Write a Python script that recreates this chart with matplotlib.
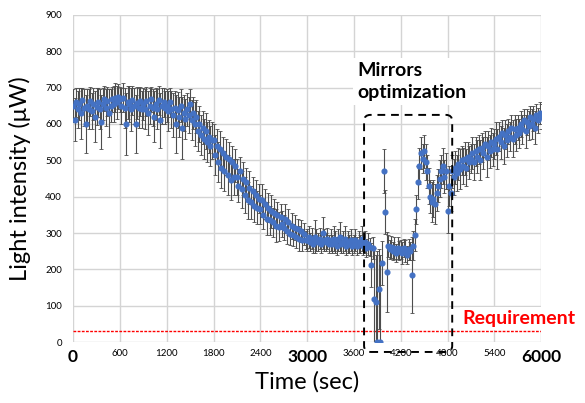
import numpy as np
import matplotlib
matplotlib.use("Agg")
import matplotlib.pyplot as plt
from matplotlib.patches import FancyBboxPatch

plt.rcParams['font.family'] = ['Lato', 'DejaVu Sans']

# sample times (every 20 s) and measured light intensity (uW)
time_s = np.arange(0, 6001, 20)
intensity = [
    650, 612, 660, 640, 655, 630, 665, 645, 600, 650, 640, 662, 635, 655, 620,
    648, 660, 640, 605, 655, 670, 645, 662, 630, 650, 668, 655, 672, 660, 675,
    668, 650, 672, 645, 600, 660, 655, 640, 665, 650, 600, 658, 645, 662, 640,
    655, 640, 662, 630, 650, 668, 645, 620, 655, 640, 665, 610, 650, 660, 645,
    650, 635, 660, 640, 625, 645, 600, 638, 620, 650, 590, 630, 615, 640, 625,
    655, 610, 630, 600, 620, 580, 600, 570, 590, 560, 580, 550, 565, 540, 555,
    555, 515, 540, 495, 530, 480, 520, 470, 510, 460, 505, 445, 495, 455, 485,
    455, 430, 470, 420, 450, 405, 440, 390, 425, 385, 415, 375, 405, 370, 395,
    365, 390, 350, 380, 340, 370, 335, 360, 330, 355, 320, 350, 318, 345, 325,
    315, 340, 305, 330, 298, 320, 295, 315, 288, 310, 285, 305, 280, 298, 282,
    280, 290, 275, 285, 270, 290, 280, 275, 285, 270, 300, 280, 275, 285, 270,
    280, 270, 285, 275, 265, 280, 290, 270, 275, 285, 265, 275, 270, 280, 265,
    270, 280, 265, 275, 270, 285, 265, 275, 260, 270, 262, 212, 258, 118, 110,
    0, 145, 0, 218, 471, 358, 192, 265, 255, 262, 250, 258, 245, 260, 252,
    255, 245, 260, 250, 240, 255, 250, 185, 265, 295, 365, 440, 485, 520, 505,
    525, 495, 470, 430, 400, 385, 395, 380, 410, 430, 450, 470, 485, 455, 470,
    360, 430, 410, 470, 455, 480, 465, 490, 475, 500, 485, 505, 480, 510, 495,
    505, 520, 495, 525, 510, 530, 500, 535, 520, 545, 510, 540, 525, 550, 530,
    545, 560, 530, 565, 550, 575, 540, 570, 555, 580, 565, 590, 560, 585, 570,
    590, 575, 600, 585, 610, 580, 605, 595, 620, 600, 615, 590, 625, 610, 630,
    620,
]
error = [
    45, 60, 40, 50, 45, 70, 35, 50, 80, 45, 55, 40, 50, 45, 70,
    50, 40, 55, 75, 45, 35, 50, 40, 65, 45, 35, 50, 40, 45, 35,
    35, 50, 40, 55, 85, 45, 50, 60, 40, 50, 80, 45, 55, 40, 50,
    45, 55, 40, 60, 50, 35, 50, 70, 45, 55, 40, 75, 50, 40, 45,
    45, 55, 40, 50, 60, 45, 80, 50, 55, 45, 85, 50, 55, 45, 50,
    40, 55, 45, 60, 45, 55, 50, 55, 45, 55, 50, 55, 45, 55, 50,
    45, 55, 45, 55, 50, 55, 45, 55, 50, 55, 45, 55, 45, 50, 45,
    50, 45, 40, 50, 45, 50, 40, 50, 45, 45, 40, 45, 40, 45, 40,
    40, 45, 40, 40, 45, 40, 40, 45, 40, 40, 45, 35, 40, 35, 35,
    35, 40, 35, 35, 30, 35, 30, 35, 30, 30, 35, 30, 30, 30, 25,
    30, 30, 25, 30, 25, 45, 30, 25, 30, 25, 45, 30, 25, 30, 25,
    30, 25, 35, 30, 25, 30, 40, 25, 30, 35, 25, 30, 25, 30, 25,
    25, 30, 25, 30, 25, 35, 25, 30, 25, 30, 25, 60, 30, 140, 130,
    250, 110, 240, 60, 60, 60, 110, 30, 25, 30, 25, 30, 25, 30, 25,
    25, 30, 25, 30, 25, 30, 25, 105, 40, 45, 40, 45, 50, 45, 40,
    45, 50, 45, 50, 45, 55, 50, 55, 50, 45, 50, 45, 50, 45, 50,
    60, 55, 50, 45, 50, 45, 50, 45, 55, 40, 50, 45, 50, 40, 45,
    40, 45, 50, 40, 45, 40, 55, 40, 45, 35, 55, 40, 45, 40, 45,
    40, 45, 55, 40, 45, 35, 50, 40, 45, 35, 40, 35, 50, 40, 45,
    35, 40, 35, 40, 30, 45, 35, 40, 30, 40, 35, 45, 30, 35, 30,
    35,
]
requirement = 30
x_ticks = list(range(0, 6001, 600))
big_ticks = [0, 3000, 6000]

fig = plt.figure(figsize=(5.85, 4.03), dpi=100)
ax = fig.add_axes([0.125, 0.151, 0.80, 0.812])

ax.errorbar(time_s, intensity, yerr=error, fmt='o', color='#4472C4',
            markersize=3.4, ecolor='#4d4d4d', elinewidth=0.8,
            capsize=1.5, capthick=0.6, zorder=3)
ax.axhline(requirement, color='red', lw=1, ls=(0, (2, 1)), zorder=2)

ax.set_xlim(0, 6000)
ax.set_ylim(0, 900)
ax.set_yticks(range(0, 901, 100))
ax.set_xticks(x_ticks)
ax.set_xticklabels([str(t) for t in x_ticks])
for t, lab in zip(x_ticks, ax.get_xticklabels()):
    if t in big_ticks:
        lab.set_fontsize(12.5)
        lab.set_fontweight('bold')
    else:
        lab.set_fontsize(7)
ax.tick_params(axis='y', labelsize=7, length=0, pad=8)
ax.tick_params(axis='x', length=0, pad=5)
ax.grid(True, color='#d4d4d4', lw=1)
ax.set_axisbelow(True)
for s in ax.spines.values():
    s.set_visible(False)

ax.set_xlabel('Time (sec)', fontsize=17, labelpad=4)
ax.set_ylabel('Light intensity (μW)', fontsize=17, labelpad=10)

# dashed box around the optimisation period
box = FancyBboxPatch((3730, -27), 1130, 652,
                     boxstyle="round,pad=0,rounding_size=80",
                     mutation_aspect=0.215, fill=False, ec='black',
                     lw=1.4, ls=(0, (4, 3)), clip_on=False, zorder=4)
ax.add_patch(box)
ax.text(3640, 770, 'Mirrors\noptimization', fontsize=14, fontweight='bold',
        va='top', ha='left', linespacing=1.35, zorder=5,
        bbox=dict(fc='white', ec='none', pad=3))
ax.text(4990, 65, 'Requirement', fontsize=14, fontweight='bold',
        color='red', va='center', ha='left', zorder=5, clip_on=False,
        bbox=dict(fc='white', ec='none', pad=2))

fig.savefig('out.png', dpi=100)
